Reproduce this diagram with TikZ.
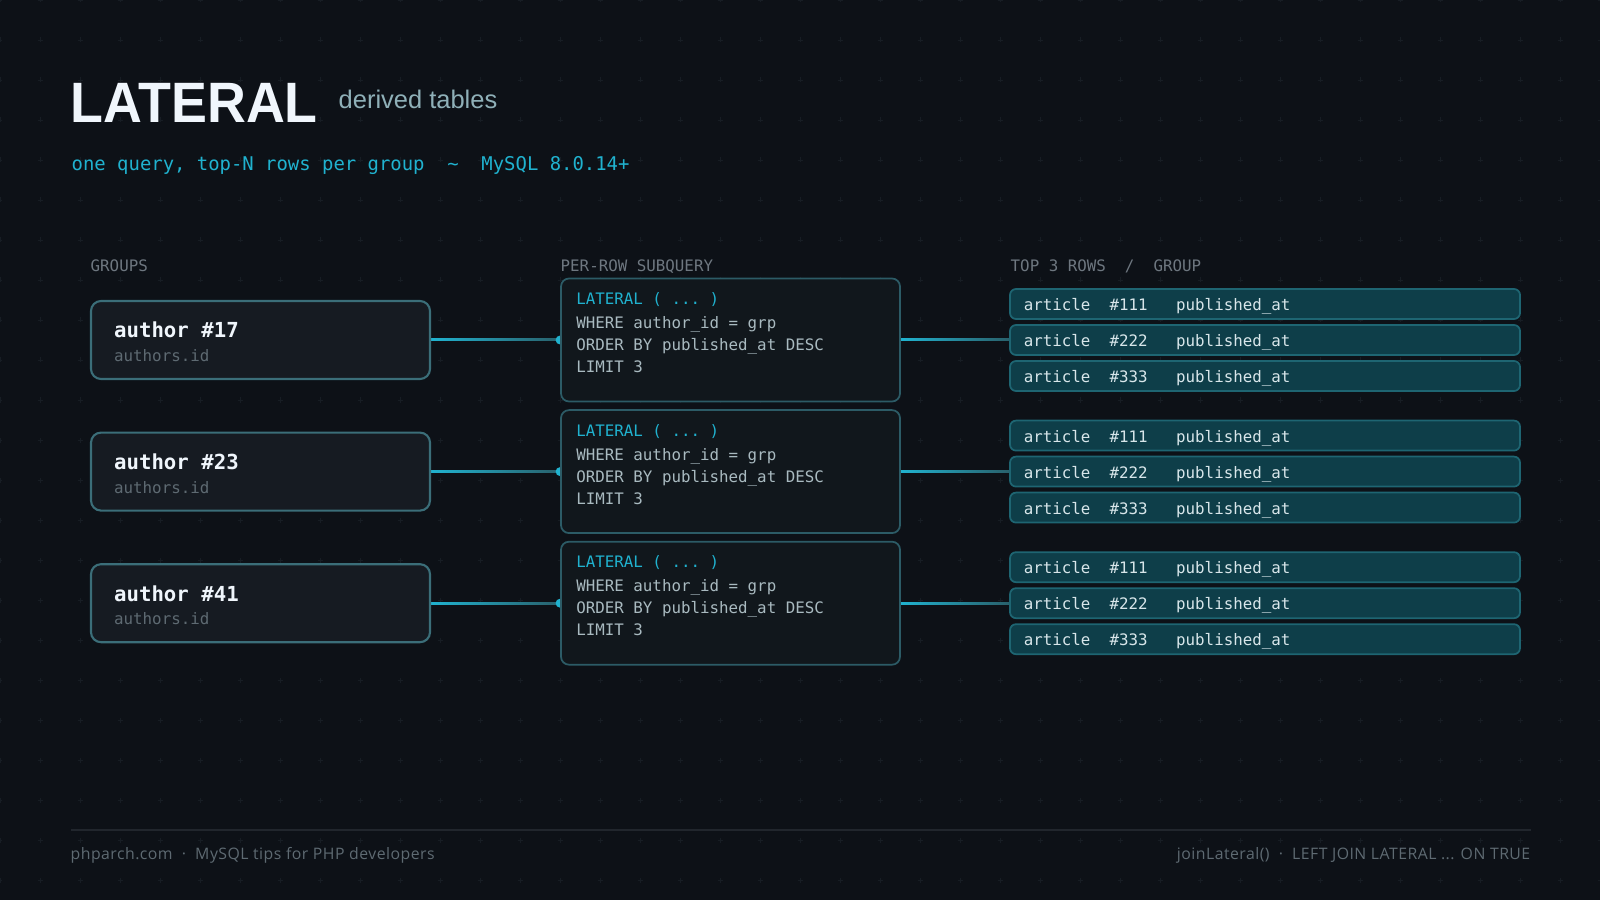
\documentclass[tikz,border=0pt]{standalone}
\usepackage{fontspec}
\setmainfont{Liberation Sans}
\setmonofont{DejaVu Sans Mono}
\newfontfamily\footfont[LetterSpace=3]{Open Sans}
\usetikzlibrary{calc}

\definecolor{bgdark}{HTML}{0D1117}
\definecolor{gridmark}{HTML}{171D24}
\definecolor{boxfill}{HTML}{161B22}
\definecolor{subfill}{HTML}{11171C}
\definecolor{rowfill}{HTML}{0E3E49}
\definecolor{groupline}{HTML}{3B6E79}
\definecolor{subline}{HTML}{2C5B66}
\definecolor{rowline}{HTML}{1E6572}
\definecolor{cyanlt}{HTML}{20B2CF}
\definecolor{wiredark}{HTML}{29606B}
\definecolor{titlewhite}{HTML}{F0F6FC}
\definecolor{subgray}{HTML}{8FB0B8}
\definecolor{codegray}{HTML}{A9BAC0}
\definecolor{rowtext}{HTML}{D8E6EA}
\definecolor{dimgray}{HTML}{5E6A72}
\definecolor{headgray}{HTML}{6E7780}
\definecolor{footline}{HTML}{21262D}

\pgfdeclarelayer{bg}
\pgfdeclarelayer{back}
\pgfsetlayers{bg,back,main}

\newcommand{\fsz}[1]{\fontsize{#1pt}{#1pt}\selectfont}

\begin{document}
\begin{tikzpicture}[x=0.1mm, y=-0.1mm]
	\tikzstyle{groupbox} = [draw=groupline, fill=boxfill, line width=0.6pt, rounded corners=1mm, minimum width=33.9mm, minimum height=7.8mm, inner sep=0pt]
	\tikzstyle{subbox} = [draw=subline, fill=subfill, line width=0.5pt, rounded corners=0.8mm, minimum width=33.9mm, minimum height=12.3mm, inner sep=0pt]
	\tikzstyle{rowbox} = [draw=rowline, fill=rowfill, line width=0.5pt, rounded corners=0.6mm, minimum width=51mm, minimum height=3mm, inner sep=0pt]
	\tikzstyle{textline} = [anchor=base west, inner sep=0pt]
	\tikzstyle{head} = [textline, text=headgray, font=\ttfamily\fsz{4.5}]
	\tikzstyle{code} = [textline, text=codegray, font=\ttfamily\fsz{4.5}]
	\tikzstyle{wire} = [left color=cyanlt, right color=wiredark]

	\useasboundingbox (0,0) rectangle (1600,900);
	\begin{pgfonlayer}{bg}
	\fill[bgdark] (0,0) rectangle (1600,900);
	\foreach \gx in {0,40,...,1600}
		\foreach \gy in {0,40,...,880}
			\draw[gridmark, line width=0.25pt] (\gx-2.5,\gy) -- (\gx+2.5,\gy) (\gx,\gy-2.5) -- (\gx,\gy+2.5);
	\end{pgfonlayer}

	% title block
	\node[textline, text=titlewhite, xscale=0.945] (title) at (70,123) {\fsz{16.2}\bfseries LATERAL};
	\node[textline, text=subgray] (subtitle) at (338,108.5) {\fsz{7.25}derived tables};
	\node[textline, text=cyanlt] (tagline) at (71,171) {\ttfamily\fsz{5.38}one query, top-N rows per group\ \ \textasciitilde\ \ MySQL 8.0.14+};

	\node[head] (hgroups) at (90,272) {GROUPS};
	\node[head] (hsub) at (560,272) {PER-ROW SUBQUERY};
	\node[head] (hrows) at (1010,272) {TOP 3 ROWS\ \ /\ \ GROUP};

	% one lane per author
	\foreach \i/\num/\yc in {1/17/340,2/23/471.6,3/41/603.2}{
		\node[groupbox] (g\i) at (260.5,\yc) {};
		\node[textline, text=titlewhite] (g\i name) at ($(g\i.west)+(23.5,-2)$) {\ttfamily\bfseries\fsz{5.89}author \#\num};
		\node[textline, text=dimgray] (g\i key) at ($(g\i.west)+(23.5,21.5)$) {\ttfamily\fsz{4.5}authors.id};

		\node[subbox] (s\i) at (730.5,\yc) {};
		\node[code, text=cyanlt] (s\i a) at ($(s\i.north west)+(15.5,27)$) {LATERAL ( ... )};
		\node[code] (s\i b) at ($(s\i.north west)+(15.5,51)$) {WHERE author\_id = grp};
		\node[code] (s\i c) at ($(s\i.north west)+(15.5,73)$) {ORDER BY published\_at DESC};
		\node[code] (s\i d) at ($(s\i.north west)+(15.5,95)$) {LIMIT 3};

		\foreach \k/\art/\dy in {1/111/-36,2/222/0,3/333/36}{
			\node[rowbox] (r\i-\k) at (1265,\yc+\dy) {};
			\node[textline, text=rowtext] at ($(r\i-\k.west)+(14,6.5)$) {\ttfamily\fsz{4.5}article\ \ \#\art\ \ \ published\_at};
		}

		\begin{pgfonlayer}{back}
		\shade[wire] ($(g\i.east)+(0,-1)$) rectangle ($(s\i.west)+(0,1)$);
		\fill[cyanlt] (s\i.west) circle[radius=0.45mm];
		\shade[wire] ($(s\i.east)+(0,-1)$) rectangle ($(r\i-2.west)+(0,1)$);
		\end{pgfonlayer}
	}

	% footer
	\draw[footline, line width=0.3pt] (71,830) -- (1531,830);
	\node[textline, text=dimgray] (footl) at (70,859) {\footfont\fsz{4.5}phparch.com\ \ ·\ \ MySQL tips for PHP developers};
	\node[anchor=base east, inner sep=0pt, text=dimgray] (footr) at (1531,859) {\footfont\fsz{4.5}joinLateral()\ \ ·\ \ LEFT JOIN LATERAL ... ON TRUE};
\end{tikzpicture}
\end{document}
